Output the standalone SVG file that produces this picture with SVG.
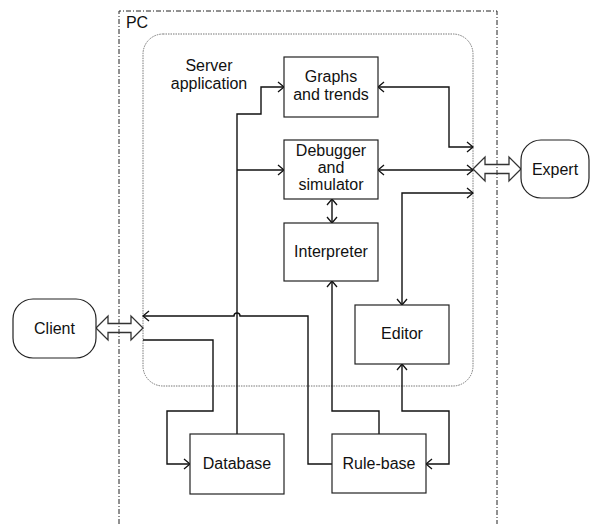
<svg xmlns="http://www.w3.org/2000/svg" width="590" height="524" viewBox="0 0 590 524">
  <style>
    .box { fill: #fff; stroke: #222; stroke-width: 1.2; }
    .lbl { font-family: "Liberation Sans", Arial, sans-serif; font-size: 16px; fill: #111; text-anchor: middle; }
    .wire { fill: none; stroke: #111; stroke-width: 1.4; }
    .block { fill: none; stroke: #333; stroke-width: 1.3; stroke-linejoin: miter; }
    .pc { fill: none; stroke: #222; stroke-width: 1; stroke-dasharray: 5 2 1 2; }
    .srv { fill: none; stroke: #777; stroke-width: 1; stroke-dasharray: 1.5 1; }
  </style>
  <defs>
    <marker id="arr" viewBox="-1 -6 8 12" markerWidth="8" markerHeight="12" refX="6" refY="0" orient="auto-start-reverse" markerUnits="userSpaceOnUse">
      <path d="M0,-5 L6,0 L0,5" fill="none" stroke="#111" stroke-width="1.3"/>
    </marker>
  </defs>

  <!-- PC boundary (open at the bottom) -->
  <g id="pc">
    <path class="pc" d="M119,524 V11 H497 V524"/>
    <text class="lbl" x="137" y="28">PC</text>
  </g>

  <!-- Server application container -->
  <g id="server">
    <rect class="srv" x="143" y="34" width="330" height="352" rx="20" ry="20"/>
    <text class="lbl" x="209" y="71">Server</text>
    <text class="lbl" x="209" y="89">application</text>
  </g>

  <!-- Connectors -->
  <g id="connectors">
    <!-- Database to Graphs and Debugger -->
    <path class="wire" d="M237,434 V114 H261 V87 H284" marker-end="url(#arr)"/>
    <path class="wire" d="M237,170 H284" marker-end="url(#arr)"/>
    <!-- Graphs <-> Expert -->
    <path class="wire" d="M378,87 H449 V147 H473" marker-start="url(#arr)" marker-end="url(#arr)"/>
    <!-- Debugger <-> Expert -->
    <path class="wire" d="M378,170 H473" marker-start="url(#arr)" marker-end="url(#arr)"/>
    <!-- Editor <-> Expert -->
    <path class="wire" d="M473,193 H402 V305" marker-start="url(#arr)" marker-end="url(#arr)"/>
    <!-- Debugger <-> Interpreter -->
    <path class="wire" d="M332,199 V223" marker-start="url(#arr)" marker-end="url(#arr)"/>
    <!-- Rule-base to Interpreter -->
    <path class="wire" d="M332,281 V411 H379 V434" marker-start="url(#arr)"/>
    <!-- Editor <-> Rule-base -->
    <path class="wire" d="M402,364 V411 H449 V464 H426" marker-start="url(#arr)" marker-end="url(#arr)"/>
    <!-- Rule-base to Client, hopping over the database line -->
    <path class="wire" d="M143,316 H234 A3,3 0 0 1 240,316 H308 V464 H332" marker-start="url(#arr)"/>
    <!-- Client to Database -->
    <path class="wire" d="M143,340 H213 V411 H167 V464 H190" marker-end="url(#arr)"/>
    <!-- Block arrows to actors -->
    <path class="block" d="M96,328 L108,316 V323.5 H131 V316 L143,328 L131,340 V332.5 H108 V340 Z"/>
    <path class="block" d="M473,169 L485,157 V164.5 H509 V157 L521,169 L509,181 V173.5 H485 V181 Z"/>
  </g>

  <g id="graphs">
    <rect class="box" x="284" y="57" width="94" height="60"/>
    <text class="lbl" x="331" y="82">Graphs</text>
    <text class="lbl" x="331" y="100">and trends</text>
  </g>
  <g id="debugger">
    <rect class="box" x="284" y="140" width="94" height="59"/>
    <text class="lbl" x="331" y="156">Debugger</text>
    <text class="lbl" x="331" y="173">and</text>
    <text class="lbl" x="331" y="190">simulator</text>
  </g>
  <g id="interpreter">
    <rect class="box" x="284" y="223" width="94" height="58"/>
    <text class="lbl" x="331" y="257">Interpreter</text>
  </g>
  <g id="editor">
    <rect class="box" x="355" y="305" width="94" height="59"/>
    <text class="lbl" x="402" y="339">Editor</text>
  </g>
  <g id="database">
    <rect class="box" x="190" y="434" width="94" height="60"/>
    <text class="lbl" x="237" y="469">Database</text>
  </g>
  <g id="rulebase">
    <rect class="box" x="332" y="434" width="94" height="59"/>
    <text class="lbl" x="379" y="469">Rule-base</text>
  </g>
  <g id="client">
    <rect class="box" x="13" y="299" width="83" height="59" rx="20" ry="20"/>
    <text class="lbl" x="54.5" y="334">Client</text>
  </g>
  <g id="expert">
    <rect class="box" x="521" y="140" width="68" height="58" rx="20" ry="20"/>
    <text class="lbl" x="555" y="175">Expert</text>
  </g>
</svg>
